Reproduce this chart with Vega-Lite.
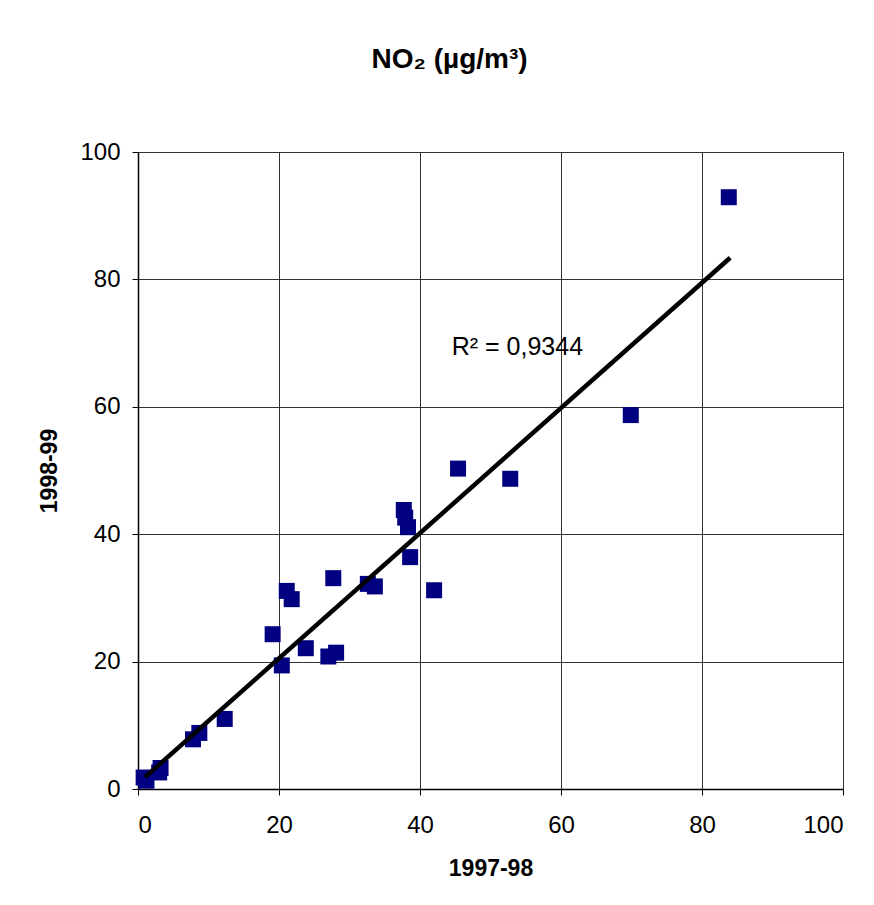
{
  "$schema": "https://vega.github.io/schema/vega-lite/v6.json",
  "autosize": "none",
  "width": 705,
  "height": 637,
  "padding": {"left": 138, "top": 152, "right": 31, "bottom": 116},
  "background": "white",
  "title": {"text": "NO₂ (µg/m³)", "font": "Liberation Sans", "fontSize": 28, "fontWeight": "bold", "color": "black", "dx": -41, "offset": 66},
  "datasets": {
    "pts": [
      {"a": 0.8, "b": 1.8}, {"a": 1.2, "b": 1.3}, {"a": 3.0, "b": 2.6}, {"a": 3.2, "b": 3.3},
      {"a": 7.8, "b": 7.8}, {"a": 8.7, "b": 8.8}, {"a": 12.3, "b": 11.0},
      {"a": 19.1, "b": 24.3}, {"a": 20.4, "b": 19.4}, {"a": 21.1, "b": 31.1}, {"a": 21.8, "b": 29.8},
      {"a": 23.8, "b": 22.1}, {"a": 27.0, "b": 20.8}, {"a": 28.1, "b": 21.4}, {"a": 27.7, "b": 33.1},
      {"a": 32.6, "b": 32.2}, {"a": 33.6, "b": 31.8}, {"a": 37.7, "b": 43.8}, {"a": 37.9, "b": 42.6},
      {"a": 38.3, "b": 41.1}, {"a": 38.6, "b": 36.4}, {"a": 42.0, "b": 31.2}, {"a": 45.4, "b": 50.3},
      {"a": 52.8, "b": 48.7}, {"a": 69.9, "b": 58.7}, {"a": 83.8, "b": 92.9}
    ],
    "lbl": [{"a": 44.5, "b": 69.4, "t": "R² = 0,9344"}]
  },
  "layer": [
    {
      "data": {"name": "pts"},
      "mark": {"type": "point", "shape": "square", "filled": true, "size": 256, "color": "#000080", "opacity": 1},
      "encoding": {
        "x": {"field": "a", "type": "quantitative", "scale": {"domain": [0, 100], "nice": false}, "title": "1997-98"},
        "y": {"field": "b", "type": "quantitative", "scale": {"domain": [0, 100], "nice": false}, "title": "1998-99"}
      }
    },
    {
      "data": {"name": "pts"},
      "transform": [{"regression": "b", "on": "a", "extent": [1, 84]}],
      "mark": {"type": "line", "color": "black", "strokeWidth": 4.5},
      "encoding": {
        "x": {"field": "a", "type": "quantitative"},
        "y": {"field": "b", "type": "quantitative"}
      }
    },
    {
      "data": {"name": "lbl"},
      "mark": {"type": "text", "align": "left", "baseline": "middle", "font": "Liberation Sans", "fontSize": 25, "color": "black"},
      "encoding": {
        "x": {"field": "a", "type": "quantitative"},
        "y": {"field": "b", "type": "quantitative"},
        "text": {"field": "t"}
      }
    }
  ],
  "config": {
    "view": {"stroke": "#808080", "strokeWidth": 1},
    "axis": {
      "labelFont": "Liberation Sans", "labelFontSize": 24, "labelColor": "black",
      "titleFont": "Liberation Sans", "titleFontSize": 23, "titleFontWeight": "bold", "titleColor": "black",
      "gridColor": "#333333", "gridWidth": 1, "gridOpacity": 1,
      "domainColor": "black", "domainWidth": 1.5,
      "tickColor": "black", "tickSize": 6, "tickWidth": 1,
      "tickCount": 5
    },
    "axisX": {"titlePadding": 20, "labelPadding": 18},
    "axisY": {"titlePadding": 18, "labelPadding": 12}
  }
}
